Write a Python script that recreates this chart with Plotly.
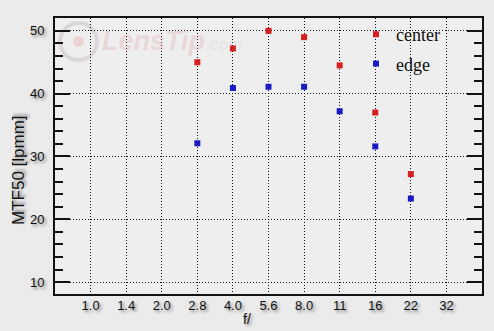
import plotly.graph_objects as go

f_stops = ["1.0", "1.4", "2.0", "2.8", "4.0", "5.6", "8.0", "11", "16", "22", "32"]
measured = ["2.8", "4.0", "5.6", "8.0", "11", "16", "22"]
center = [45.0, 47.2, 50.0, 49.0, 44.5, 37.0, 27.2]
edge = [32.1, 40.9, 41.1, 41.1, 37.2, 31.6, 23.3]

shadow = "2px 2px 3px rgba(0,0,0,0.45)"
tickfont = dict(family="Liberation Sans, Arial, sans-serif", size=13, color="#111", shadow=shadow)

fig = go.Figure()
fig.add_trace(go.Scatter(x=measured, y=center, mode="markers", name="center",
                         legendgroup="c",
                         marker=dict(symbol="square", size=6, color="#d62020", line=dict(width=0))))
fig.add_trace(go.Scatter(x=measured, y=edge, mode="markers", name="edge",
                         legendgroup="e",
                         marker=dict(symbol="square", size=6, color="#1a1ac4", line=dict(width=0))))

# faint watermark
fig.add_shape(type="circle", xref="paper", yref="paper",
              x0=(60 - 55) / 427, x1=(97 - 55) / 427, y0=(294 - 60) / 276, y1=(294 - 23) / 276,
              line=dict(color="rgba(190,170,170,0.35)", width=4), layer="below")
fig.add_shape(type="circle", xref="paper", yref="paper",
              x0=(73 - 55) / 427, x1=(84 - 55) / 427, y0=(294 - 47) / 276, y1=(294 - 36) / 276,
              fillcolor="rgba(230,160,160,0.35)", line=dict(width=0), layer="below")
fig.add_annotation(xref="paper", yref="paper", x=(100 - 55) / 427, y=(294 - 41) / 276,
                   xanchor="left", yanchor="middle", showarrow=False,
                   text="<b><i>LensTip<span style='font-size:16px;color:rgba(170,170,170,0.4)'>.com</span></i></b>",
                   font=dict(family="Liberation Sans, Arial", size=27, color="rgba(225,165,165,0.33)"))

# axis titles
fig.add_annotation(xref="paper", yref="paper", x=(247 - 55) / 427, y=(294 - 319) / 276,
                   xanchor="center", yanchor="middle", showarrow=False, text="f/",
                   font=dict(family="Liberation Sans, Arial", size=14, color="#111", shadow=shadow))
fig.add_annotation(xref="paper", yref="paper", x=(18 - 55) / 427, y=(294 - 170) / 276,
                   xanchor="center", yanchor="middle", showarrow=False, text="MTF50 [lpmm]",
                   textangle=-90,
                   font=dict(family="Liberation Sans, Arial", size=17, color="#111", shadow=shadow))

fig.update_layout(
    width=494, height=331,
    margin=dict(l=55, r=12, t=18, b=37),
    paper_bgcolor="#ebebeb",
    plot_bgcolor="#eeeeee",
    showlegend=True,
    legend=dict(x=(356 - 55) / 427, y=(294 - 16) / 276, xanchor="left", yanchor="top",
                bgcolor="rgba(0,0,0,0)", borderwidth=0, tracegroupgap=3,
                font=dict(family="Liberation Serif, Times New Roman, serif", size=18, color="#111")),
    xaxis=dict(
        type="category", categoryorder="array", categoryarray=f_stops,
        range=[-1, 11], tickvals=f_stops, ticktext=f_stops, automargin=False,
        ticks="", showgrid=True, gridcolor="#111", griddash="1px,2px", gridwidth=1,
        showline=True, linecolor="#111", linewidth=2, mirror=True,
        tickfont=tickfont, ticklabelstandoff=-2,
        zeroline=False,
    ),
    yaxis=dict(
        range=[8.1, 52.05], tick0=0, dtick=10, automargin=False,
        ticks="inside", ticklen=15, tickwidth=1.5, tickcolor="#111",
        minor=dict(dtick=2, tick0=0, ticks="inside", ticklen=8, tickwidth=1.5, tickcolor="#111", showgrid=False),
        showgrid=True, gridcolor="#111", griddash="1px,2px", gridwidth=1,
        showline=True, linecolor="#111", linewidth=2, mirror="ticks",
        tickfont=tickfont, ticklabelstandoff=6,
        zeroline=False,
    ),
)

fig.write_html("out.html")
